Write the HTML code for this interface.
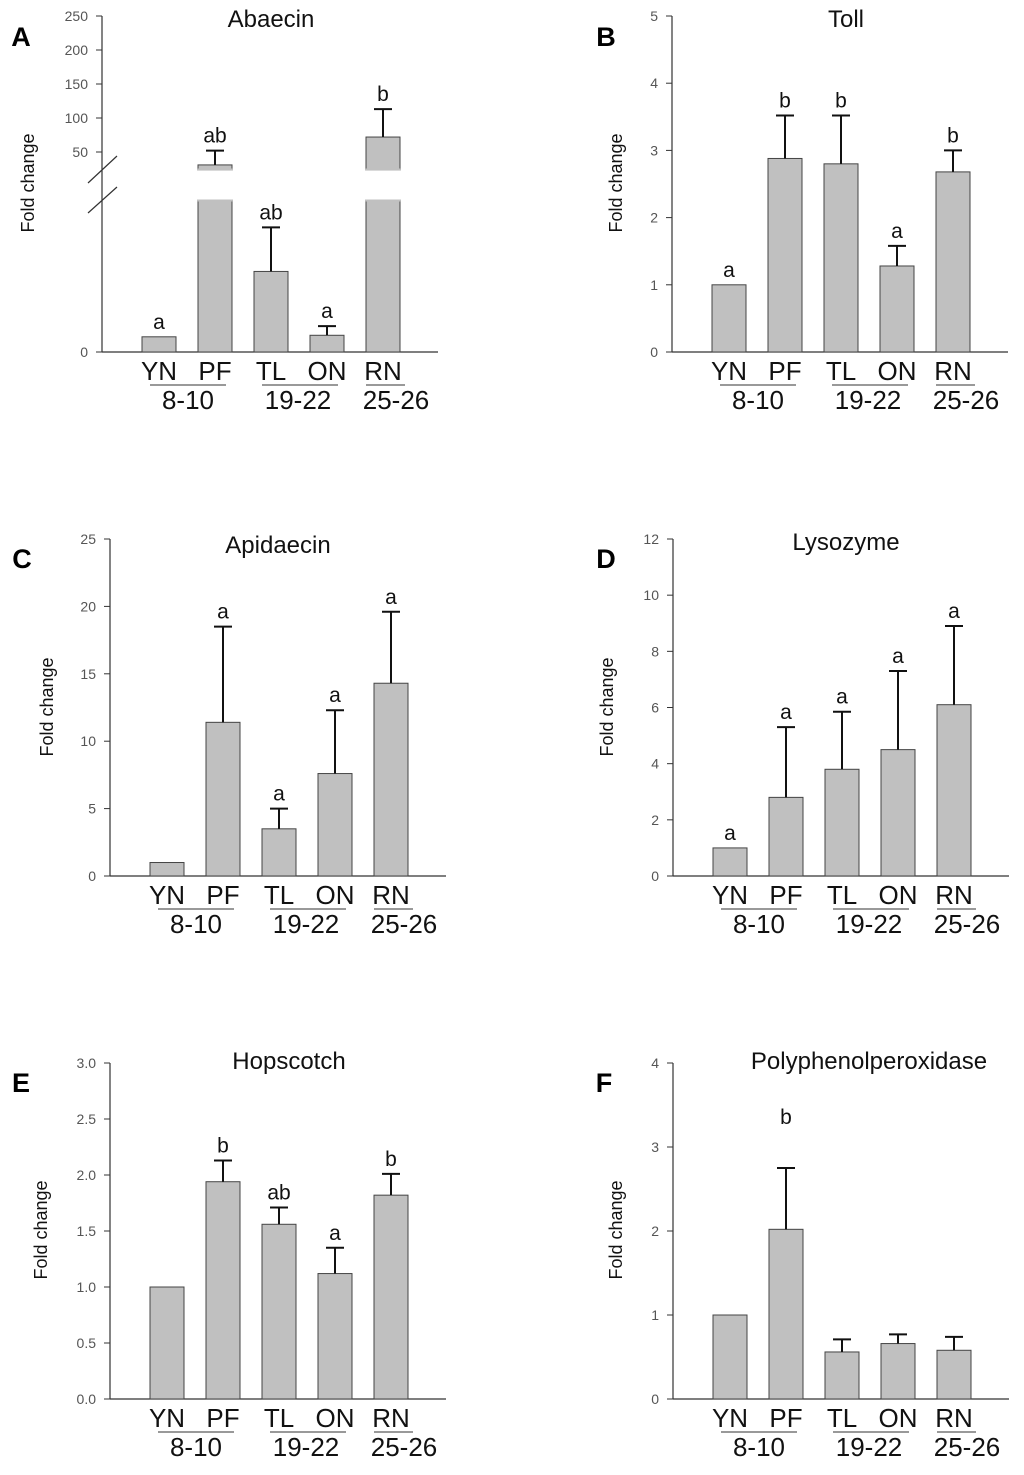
<!DOCTYPE html>
<html><head><meta charset="utf-8">
<style>
html,body{margin:0;padding:0;background:#fff;}
svg{display:block;font-family:"Liberation Sans",Arial,sans-serif;}
</style></head>
<body>
<svg id="fig" width="1024" height="1475" viewBox="0 0 1024 1475" xmlns="http://www.w3.org/2000/svg"></svg>
<script>
const categories = ["YN","PF","TL","ON","RN"];
const groups = ["8-10","19-22","25-26"];
// Panel A Abaecin (broken axis)
const abaecinValues = [1, 31, 5.3, 1.1, 72];
const abaecinErrors = [1, 52, 8.2, 1.7, 113];
const abaecinLetters = ["a","ab","ab","a","b"];
const abaecinTicks = [0, 50, 100, 150, 200, 250];
// Panel B Toll
const tollValues = [1, 2.88, 2.80, 1.28, 2.68];
const tollErrors = [1, 3.52, 3.52, 1.58, 3.0];
const tollLetters = ["a","b","b","a","b"];
const tollTicks = ["0","1","2","3","4","5"];
// Panel C Apidaecin
const apidaecinValues = [1, 11.4, 3.5, 7.6, 14.3];
const apidaecinErrors = [1, 18.5, 5.0, 12.3, 19.6];
const apidaecinLetters = ["","a","a","a","a"];
const apidaecinTicks = ["0","5","10","15","20","25"];
// Panel D Lysozyme
const lysozymeValues = [1, 2.8, 3.8, 4.5, 6.1];
const lysozymeErrors = [1, 5.3, 5.85, 7.3, 8.9];
const lysozymeLetters = ["a","a","a","a","a"];
const lysozymeTicks = ["0","2","4","6","8","10","12"];
// Panel E Hopscotch
const hopscotchValues = [1.0, 1.94, 1.56, 1.12, 1.82];
const hopscotchErrors = [1.0, 2.13, 1.71, 1.35, 2.01];
const hopscotchLetters = ["","b","ab","a","b"];
const hopscotchTicks = ["0.0","0.5","1.0","1.5","2.0","2.5","3.0"];
// Panel F Polyphenolperoxidase
const ppoValues = [1, 2.02, 0.56, 0.66, 0.58];
const ppoErrors = [1, 2.75, 0.71, 0.77, 0.74];
const ppoLetters = ["","b","","",""];
const ppoTicks = ["0","1","2","3","4"];

const NS = "http://www.w3.org/2000/svg";
const svg = document.getElementById("fig");
function mk(tag, attrs, parent, text){
  const e = document.createElementNS(NS, tag);
  for (const k in attrs) e.setAttribute(k, attrs[k]);
  if (text !== undefined) e.textContent = text;
  (parent || svg).appendChild(e);
  return e;
}

function panel(cfg){
  const g = mk("g", {});
  
  
  const ax = cfg.axisX, zero = cfg.zero;
  // letter
  const L = mk("text", {x: cfg.letterX, y: cfg.letterY, "font-size": 27, "font-weight": "bold", "text-anchor": "middle", fill: "#000"}, g, cfg.letter);
  
  
  const T = mk("text", {x: cfg.titleX, y: cfg.titleY, "font-size": 24, "text-anchor": "middle", fill: "#111"}, g, cfg.title);
  
  
  // y axis
  const ya = mk("line", {x1: ax, y1: cfg.top, x2: ax, y2: zero, stroke: "#333", "stroke-width": 1.2}, g);
  
  
  const xa = mk("line", {x1: ax, y1: zero, x2: ax + 336, y2: zero, stroke: "#333", "stroke-width": 1.2}, g);
  
  
  cfg.ticks.forEach((t) => {
    const v = parseFloat(t);
    const y = cfg.scale(v);
    mk("line", {x1: ax - 6, y1: y, x2: ax, y2: y, stroke: "#333", "stroke-width": 1}, g);
    const tl = mk("text", {x: ax - 14, y: y + 5, "font-size": 14, "text-anchor": "end", fill: "#555"}, g, String(t));
    
    
  });
  const yt = mk("text", {x: 0, y: 0, "font-size": 18, "text-anchor": "middle", fill: "#111",
    transform: "translate(" + cfg.ytX + "," + cfg.ytY + ") rotate(-90)"}, g, "Fold change");
  
  
  // bars
  categories.forEach((c, i) => {
    const x0 = ax + 40 + i * 56, w = 34, cx = x0 + w / 2;
    const v = cfg.values[i], e = cfg.errors[i];
    if (cfg.broken && v > cfg.breakLow) {
      const b1 = mk("rect", {x: x0, y: cfg.scale(cfg.breakLow), width: w, height: zero - cfg.scale(cfg.breakLow), fill: "#c0c0c0", stroke: "#444", "stroke-width": 1}, g);
      
      
      const yb = cfg.scale(cfg.breakHigh), yv = cfg.scale(v);
      const b2 = mk("rect", {x: x0, y: yv, width: w, height: yb - yv, fill: "#c0c0c0", stroke: "#444", "stroke-width": 1}, g);
      
      
      // hide bottom stroke edges
      mk("rect", {x: x0 - 1, y: cfg.scale(cfg.breakLow) - 0.5, width: w + 2, height: 2, fill: "#c0c0c0"}, g);
      mk("rect", {x: x0 - 1, y: yb - 1.5, width: w + 2, height: 2, fill: "#c0c0c0"}, g);
    } else {
      const b = mk("rect", {x: x0, y: cfg.scale(v), width: w, height: zero - cfg.scale(v), fill: "#c0c0c0", stroke: "#444", "stroke-width": 1}, g);
      
      
    }
    if (e > v) {
      const ye = cfg.scale(e);
      const eb = mk("path", {d: "M" + cx + " " + cfg.scale(v) + "V" + ye + "M" + (cx - 9) + " " + ye + "H" + (cx + 9), stroke: "#111", "stroke-width": 2, fill: "none"}, g);
      
      
    }
    if (cfg.letters[i]) {
      const ly = cfg.letterYs ? cfg.letterYs[i] : Math.min(cfg.scale(e), cfg.scale(v)) - 8;
      const sl = mk("text", {x: cx, y: ly, "font-size": 21, "text-anchor": "middle", fill: "#111"}, g, cfg.letters[i]);
      
      
    }
    const cl = mk("text", {x: cx, y: zero + 28, "font-size": 26, "text-anchor": "middle", fill: "#111"}, g, c);
    
    
  });
  // group underlines
  const spans = [[48, 124, 86], [160, 236, 196], [264, 303, 294]];
  groups.forEach((gr, i) => {
    const s = spans[i];
    const ln = mk("line", {x1: ax + s[0], y1: zero + 33, x2: ax + s[1], y2: zero + 33, stroke: "#333", "stroke-width": 1}, g);
    
    
    const gt = mk("text", {x: ax + s[2], y: zero + 57, "font-size": 26, "text-anchor": "middle", fill: "#111"}, g, gr);
    
    
  });
  return g;
}
function linScale(top, zero, max){ return v => zero - (zero - top) * v / max; }

// Panel A broken scale: lower 0-10 -> 352..200 ; upper 0..250 with 50@152, 250@16
const aLowTop = 200, aUpBot = 170;
function abaecinScale(v){
  if (v <= 10) return 352 - (352 - aLowTop) * v / 10;
  return 152 - (v - 50) * (136 / 200);
}
const gA = panel({id:"a", letter:"A", letterX:21, letterY:46, title:"Abaecin", titleX:271, titleY:27,
  axisX:102, top:16, zero:352, scale: abaecinScale, ticks: abaecinTicks.filter(t => t !== 0).concat([0]),
  values: abaecinValues, errors: abaecinErrors, letters: abaecinLetters, broken:true, breakLow:10, breakHigh:23.5,
  ytX:34, ytY:183});
// break marks
const br = mk("path", {d: "M88 183 L117 156 M88 213 L117 187", stroke: "#333", "stroke-width": 1.2, fill: "none"}, gA);



panel({id:"b", letter:"B", letterX:606, letterY:46, title:"Toll", titleX:846, titleY:27,
  axisX:672, top:16, zero:352, scale: linScale(16, 352, 5), ticks: tollTicks,
  values: tollValues, errors: tollErrors, letters: tollLetters, ytX:622, ytY:183});
panel({id:"c", letter:"C", letterX:22, letterY:568, title:"Apidaecin", titleX:278, titleY:553,
  axisX:110, top:539, zero:876, scale: linScale(539, 876, 25), ticks: apidaecinTicks,
  values: apidaecinValues, errors: apidaecinErrors, letters: apidaecinLetters, ytX:53, ytY:707});
panel({id:"d", letter:"D", letterX:606, letterY:568, title:"Lysozyme", titleX:846, titleY:550,
  axisX:673, top:539, zero:876, scale: linScale(539, 876, 12), ticks: lysozymeTicks,
  values: lysozymeValues, errors: lysozymeErrors, letters: lysozymeLetters, ytX:613, ytY:707});
panel({id:"e", letter:"E", letterX:21, letterY:1092, title:"Hopscotch", titleX:289, titleY:1069,
  axisX:110, top:1063, zero:1399, scale: linScale(1063, 1399, 3), ticks: hopscotchTicks,
  values: hopscotchValues, errors: hopscotchErrors, letters: hopscotchLetters, ytX:47, ytY:1230});
panel({id:"f", letter:"F", letterX:604, letterY:1092, title:"Polyphenolperoxidase", titleX:869, titleY:1069,
  axisX:673, top:1063, zero:1399, scale: linScale(1063, 1399, 4), ticks: ppoTicks,
  values: ppoValues, errors: ppoErrors, letters: ppoLetters, letterYs:[0,1124,0,0,0], ytX:622, ytY:1230});
</script>
</body></html>
